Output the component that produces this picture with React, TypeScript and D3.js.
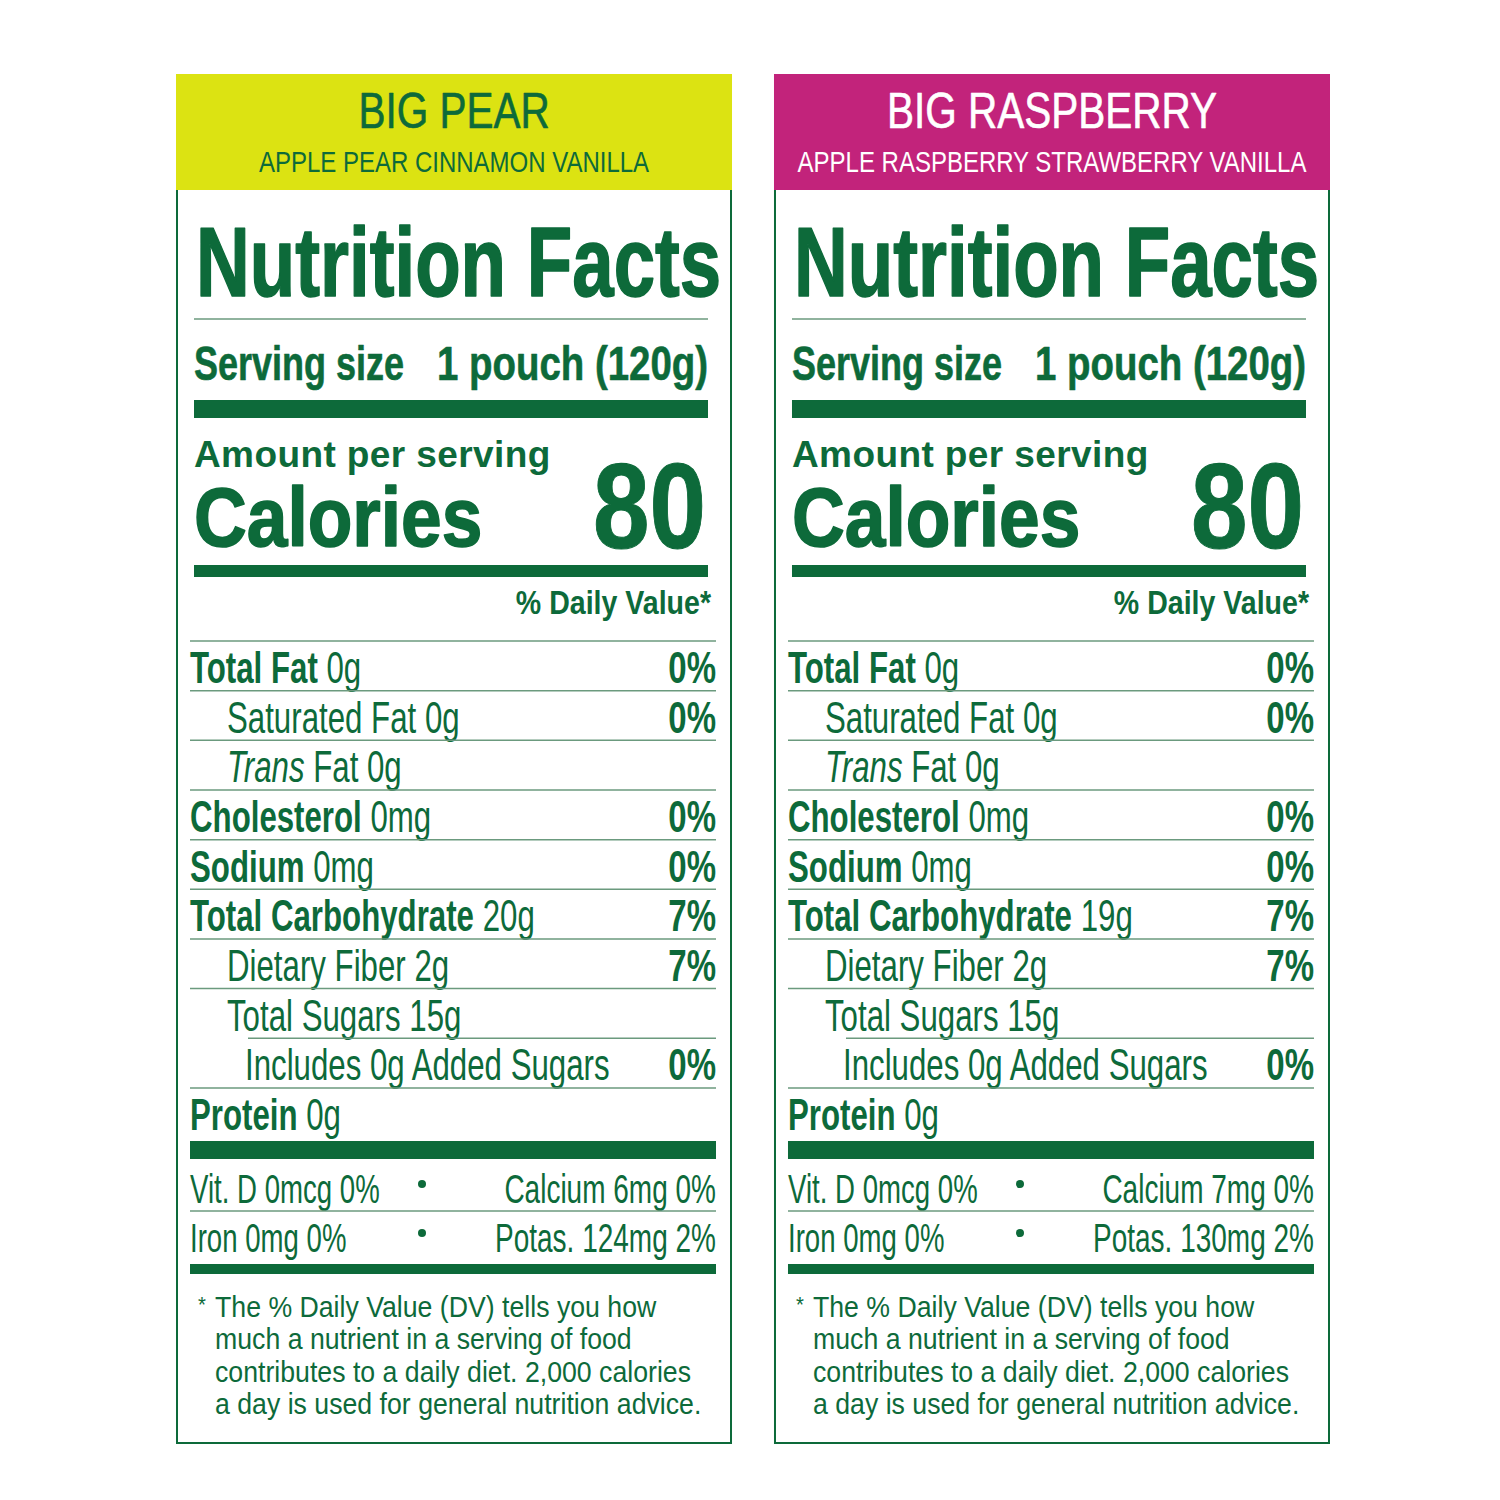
import * as d3 from 'd3'

// two pouches, one label each
const products = ["BIG PEAR", "BIG RASPBERRY"]
const flavours = ["APPLE PEAR CINNAMON VANILLA", "APPLE RASPBERRY STRAWBERRY VANILLA"]
const headerFill = ["#dce312", "#c2237b"]
const headerText = ["#0d6a3a", "#ffffff"]
const servingSize = ["1 pouch (120g)", "1 pouch (120g)"]
const calories = [80, 80]

const nutrients = ["Total Fat", "Saturated Fat", "Trans Fat", "Cholesterol", "Sodium",
  "Total Carbohydrate", "Dietary Fiber", "Total Sugars", "Added Sugars", "Protein"]
const nutrientLevel = [0, 1, 1, 0, 0, 0, 1, 1, 2, 0]
const pearAmounts = ["0g", "0g", "0g", "0mg", "0mg", "20g", "2g", "15g", "0g", "0g"]
const raspberryAmounts = ["0g", "0g", "0g", "0mg", "0mg", "19g", "2g", "15g", "0g", "0g"]
const pearDV = [0, 0, null, 0, 0, 7, 7, null, 0, null]
const raspberryDV = [0, 0, null, 0, 0, 7, 7, null, 0, null]

const minerals = ["Vit. D", "Calcium", "Iron", "Potas."]
const pearMinerals = ["0mcg", "6mg", "0mg", "124mg"]
const pearMineralDV = [0, 0, 0, 2]
const raspberryMinerals = ["0mcg", "7mg", "0mg", "130mg"]
const raspberryMineralDV = [0, 0, 0, 2]

const footnote = [
  "The % Daily Value (DV) tells you how",
  "much a nutrient in a serving of food",
  "contributes to a daily diet. 2,000 calories",
  "a day is used for general nutrition advice.",
]

const amounts = [pearAmounts, raspberryAmounts]
const dvs = [pearDV, raspberryDV]
const mineralAmounts = [pearMinerals, raspberryMinerals]
const mineralDVs = [pearMineralDV, raspberryMineralDV]

const GREEN = "#0d6a3a"
const RULE = "#6b9a7e"
const FONT = "'Liberation Sans', Arial, sans-serif"

const panelX = d3.scaleBand<string>().domain(products).range([176, 1330]).paddingInner(0.0702)
const W = panelX.bandwidth()
const rowY = d3.scaleLinear().domain([0, 10]).range([641, 1137.6])
const footY = d3.scaleLinear().domain([0, 3]).range([1317, 1414])

function Txt({x, y, size, sx = 1, weight = 400, anchor = "start", fill = GREEN, stroke, children, ls}: any) {
  return (
    <text transform={`translate(${x},${y}) scale(${sx},1)`} fontSize={size} fontWeight={weight}
          textAnchor={anchor} fill={fill} fontFamily={FONT} letterSpacing={ls}
          stroke={stroke ? fill : undefined} strokeWidth={stroke} strokeLinejoin="round">
      {children}
    </text>
  )
}

function RowLabel({i, amt}: { i: number, amt: string }) {
  const name = nutrients[i]
  if (nutrientLevel[i] === 0) return <><tspan fontWeight={700}>{name}</tspan> {amt}</>
  if (name === "Trans Fat") return <><tspan fontStyle="italic">Trans</tspan> Fat {amt}</>
  if (name === "Added Sugars") return <>Includes {amt} Added Sugars</>
  return <>{name} {amt}</>
}

function Panel({p}: { p: number }) {
  const x0 = panelX(products[p])!
  const indent = [14, 51, 69]
  return (
    <g transform={`translate(${x0},0)`}>
      <rect x={0} y={74} width={W} height={116} fill={headerFill[p]}/>
      <path d={`M1,190V1443H${W - 1}V190`} fill="none" stroke={GREEN} strokeWidth={2}/>
      <Txt x={W / 2} y={128} size={50} sx={0.81} anchor="middle" fill={headerText[p]} stroke={0.6}>{products[p]}</Txt>
      <Txt x={W / 2} y={172} size={30} sx={0.8} anchor="middle" fill={headerText[p]}>{flavours[p]}</Txt>

      <Txt x={20} y={296} size={99} sx={0.752} weight={700} stroke={1.6}>Nutrition Facts</Txt>
      <line x1={18} x2={532} y1={319} y2={319} stroke={RULE} strokeWidth={1.5}/>
      <Txt x={18} y={380} size={48} sx={0.75} weight={700} stroke={0.6}>Serving size</Txt>
      <Txt x={532} y={380} size={48} sx={0.8} weight={700} anchor="end" stroke={0.6}>{servingSize[p]}</Txt>
      <rect x={18} y={400} width={514} height={18} fill={GREEN}/>

      <Txt x={18} y={467} size={37} weight={700} ls={0.4}>Amount per serving</Txt>
      <Txt x={18} y={546} size={84} sx={0.87} weight={700} stroke={1.6}>Calories</Txt>
      <Txt x={530} y={548} size={121} sx={0.84} weight={700} anchor="end" stroke={1}>{calories[p]}</Txt>
      <rect x={18} y={565} width={514} height={12} fill={GREEN}/>
      <Txt x={535} y={614} size={34} sx={0.84} weight={700} anchor="end">% Daily Value*</Txt>

      <line x1={14} x2={540} y1={rowY(0)} y2={rowY(0)} stroke={RULE} strokeWidth={1.5}/>
      {nutrients.map((_, i) => (
        <g key={i}>
          <Txt x={indent[nutrientLevel[i]]} y={rowY(i) + 42} size={44} sx={0.71}>
            <RowLabel i={i} amt={amounts[p][i]}/>
          </Txt>
          {dvs[p][i] !== null &&
            <Txt x={540} y={rowY(i) + 42} size={44} sx={0.75} weight={700} anchor="end">{dvs[p][i]}%</Txt>}
          {i < nutrients.length - 1 &&
            <line x1={i === 7 ? 72 : 14} x2={540} y1={rowY(i + 1)} y2={rowY(i + 1)} stroke={RULE} strokeWidth={1.5}/>}
        </g>
      ))}
      <rect x={14} y={1141} width={526} height={18} fill={GREEN}/>

      {[0, 1].map(r => {
        const base = r === 0 ? 1203 : 1252
        const a = r * 2, b = r * 2 + 1
        return (
          <g key={r}>
            <Txt x={14} y={base} size={40} sx={0.69}>{minerals[a]} {mineralAmounts[p][a]} {mineralDVs[p][a]}%</Txt>
            <circle cx={246} cy={base - 19} r={4} fill={GREEN}/>
            <Txt x={540} y={base} size={40} sx={0.7} anchor="end">{minerals[b]} {mineralAmounts[p][b]} {mineralDVs[p][b]}%</Txt>
          </g>
        )
      })}
      <line x1={14} x2={540} y1={1211} y2={1211} stroke={RULE} strokeWidth={1.5}/>
      <rect x={14} y={1264} width={526} height={10} fill={GREEN}/>

      <Txt x={22} y={1312} size={22} sx={0.92}>*</Txt>
      {footnote.map((line, i) => (
        <Txt key={i} x={39} y={footY(i)} size={29} sx={0.92}>{line}</Txt>
      ))}
    </g>
  )
}

export default function App() {
  return (
    <svg width={1500} height={1500} style={{position: 'absolute', left: 0, top: 0, background: '#fff'}}>
      <rect width={1500} height={1500} fill="#fff"/>
      {products.map((_, p) => <Panel key={p} p={p}/>)}
    </svg>
  )
}
